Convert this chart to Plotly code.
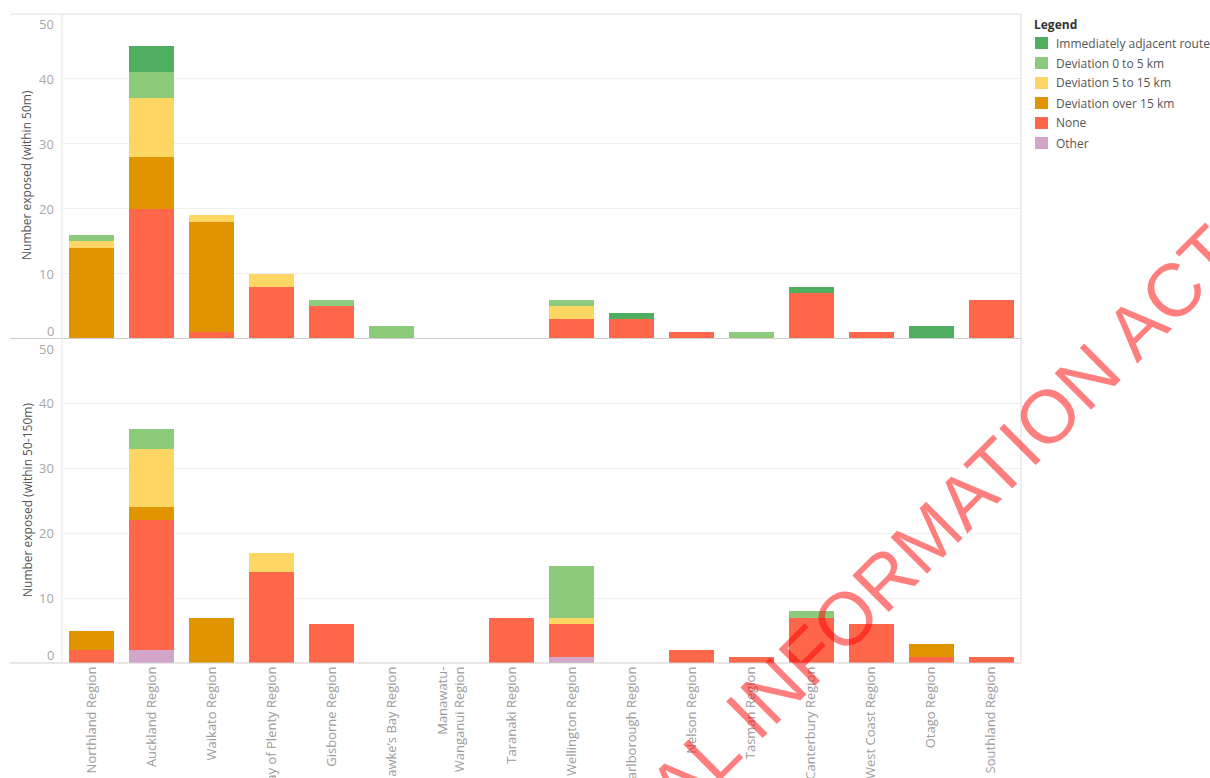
import plotly.graph_objects as go
from plotly.subplots import make_subplots

# Regions along the x axis
regions = [
    "Northland Region", "Auckland Region", "Waikato Region", "Bay of Plenty Region",
    "Gisborne Region", "Hawke’s Bay Region", "Manawatu-Wanganui Region", "Taranaki Region",
    "Wellington Region", "Marlborough Region", "Nelson Region", "Tasman Region",
    "Canterbury Region", "West Coast Region", "Otago Region", "Southland Region",
]
region_tick_labels = [
    "Northland Region", "Auckland Region", "Waikato Region", "Bay of Plenty Region",
    "Gisborne Region", "Hawke’s Bay Region", "Manawatu-<br>Wanganui Region", "Taranaki Region",
    "Wellington Region", "Marlborough Region", "Nelson Region", "Tasman Region",
    "Canterbury Region", "West Coast Region", "Otago Region", "Southland Region",
]

# Legend categories, bottom of the stack first
categories = ["Other", "None", "Deviation over 15 km", "Deviation 5 to 15 km",
              "Deviation 0 to 5 km", "Immediately adjacent route"]
legend_order = ["Immediately adjacent route", "Deviation 0 to 5 km", "Deviation 5 to 15 km",
                "Deviation over 15 km", "None", "Other"]
colors = {
    "Immediately adjacent route": "#4FAE5F",
    "Deviation 0 to 5 km": "#8CCB7C",
    "Deviation 5 to 15 km": "#FDD664",
    "Deviation over 15 km": "#E09500",
    "None": "#FF674B",
    "Other": "#D3A5C9",
}

# Number exposed within 50 m
w50_other =    [0, 0, 0, 0, 0, 0, 0, 0, 0, 0, 0, 0, 0, 0, 0, 0]
w50_none =     [0, 20, 1, 8, 5, 0, 0, 0, 3, 3, 1, 0, 7, 1, 0, 6]
w50_over15 =   [14, 8, 17, 0, 0, 0, 0, 0, 0, 0, 0, 0, 0, 0, 0, 0]
w50_5to15 =    [1, 9, 1, 2, 0, 0, 0, 0, 2, 0, 0, 0, 0, 0, 0, 0]
w50_0to5 =     [1, 4, 0, 0, 1, 2, 0, 0, 1, 0, 0, 1, 0, 0, 0, 0]
w50_adjacent = [0, 4, 0, 0, 0, 0, 0, 0, 0, 1, 0, 0, 1, 0, 2, 0]

# Number exposed within 50-150 m
w150_other =    [0, 2, 0, 0, 0, 0, 0, 0, 1, 0, 0, 0, 0, 0, 0, 0]
w150_none =     [2, 20, 0, 14, 6, 0, 0, 7, 5, 0, 2, 1, 7, 6, 1, 1]
w150_over15 =   [3, 2, 7, 0, 0, 0, 0, 0, 0, 0, 0, 0, 0, 0, 2, 0]
w150_5to15 =    [0, 9, 0, 3, 0, 0, 0, 0, 1, 0, 0, 0, 0, 0, 0, 0]
w150_0to5 =     [0, 3, 0, 0, 0, 0, 0, 0, 8, 0, 0, 0, 1, 0, 0, 0]
w150_adjacent = [0, 0, 0, 0, 0, 0, 0, 0, 0, 0, 0, 0, 0, 0, 0, 0]

y_ticks = [0, 10, 20, 30, 40, 50]
panel_titles = ["Number exposed (within 50m)", "Number exposed (within 50-150m)"]
watermark = "RELEASED UNDER THE OFFICIAL INFORMATION ACT"

panels = [
    [w50_other, w50_none, w50_over15, w50_5to15, w50_0to5, w50_adjacent],
    [w150_other, w150_none, w150_over15, w150_5to15, w150_0to5, w150_adjacent],
]

FONT = "Open Sans"
W, H = 1210, 778
L, R, T, B = 62, 1021, 14, 663
PW, PH = R - L, B - T


def px(x):
    return (x - L) / PW


def py(y):
    return (B - y) / PH


fig = make_subplots(rows=2, cols=1, shared_xaxes=True, vertical_spacing=0)

for row, series in enumerate(panels, start=1):
    for name, vals in zip(categories, series):
        fig.add_trace(
            go.Bar(
                x=regions, y=vals, name=name,
                marker=dict(color=colors[name], line=dict(width=0)),
                showlegend=False,
            ),
            row=row, col=1,
        )

fig.update_layout(
    barmode="stack",
    bargap=0.25,
    width=W, height=H,
    margin=dict(l=L, r=W - R, t=T, b=H - B),
    paper_bgcolor="white",
    plot_bgcolor="white",
    font=dict(family=FONT, color="#555555", size=12),
)

fig.update_yaxes(range=[0, 50], tickvals=[10, 20, 30, 40], showticklabels=False,
                 gridcolor="#f0f0f0", gridwidth=1, zeroline=False, showline=False, ticks="",
                 automargin=False)
fig.update_xaxes(showline=False, ticks="", showgrid=False, zeroline=False, automargin=False)
fig.update_xaxes(tickmode="array", tickvals=regions, ticktext=region_tick_labels,
                 tickangle=-90, tickfont=dict(family=FONT, size=13, color="#9c9c9c"),
                 row=2, col=1)

annotations = []
# y tick labels, kept inside each panel at the ends
for yref in ["y", "y2"]:
    for v in y_ticks:
        if v == 50:
            anchor, shift = "top", 1
        elif v == 0:
            anchor, shift = "bottom", -3
        else:
            anchor, shift = "middle", 0
        annotations.append(dict(
            x=px(56), y=v, xref="paper", yref=yref, text=str(v), showarrow=False,
            xanchor="right", yanchor=anchor, yshift=shift,
            font=dict(family=FONT, size=13, color="#a8a8a8"),
        ))

# panel titles
for title, yc in zip(panel_titles, [175, 500]):
    annotations.append(dict(
        x=px(27), y=py(yc), xref="paper", yref="paper", text=title, showarrow=False,
        textangle=-90, xanchor="center", yanchor="middle",
        font=dict(family=FONT, size=12, color="#555555"),
    ))

# legend
annotations.append(dict(
    x=px(1032), y=py(25), xref="paper", yref="paper", text="<b>Legend</b>", showarrow=False,
    xanchor="left", yanchor="middle", font=dict(family=FONT, size=12, color="#333333"),
))
shapes = []
for i, name in enumerate(legend_order):
    yc = 43 + 20 * i
    shapes.append(dict(type="rect", xref="paper", yref="paper",
                       x0=px(1035), x1=px(1048), y0=py(yc - 6), y1=py(yc + 6),
                       fillcolor=colors[name], line=dict(width=0)))
    annotations.append(dict(
        x=px(1054), y=py(yc), xref="paper", yref="paper", text=name, showarrow=False,
        xanchor="left", yanchor="middle", font=dict(family=FONT, size=12, color="#555555"),
    ))

# frame lines
shapes += [
    dict(type="line", xref="paper", yref="paper", x0=px(10), x1=1, y0=1, y1=1,
         line=dict(color="#e2e2e2", width=1)),
    dict(type="line", xref="paper", yref="paper", x0=px(10), x1=1, y0=0.5, y1=0.5,
         line=dict(color="#cfcfcf", width=1)),
    dict(type="line", xref="paper", yref="paper", x0=px(10), x1=1, y0=0, y1=0,
         line=dict(color="#cfcfcf", width=1)),
    dict(type="line", xref="paper", yref="paper", x0=0, x1=0, y0=0, y1=1,
         line=dict(color="#e2e2e2", width=1)),
    dict(type="line", xref="paper", yref="paper", x0=1, x1=1, y0=0, y1=1,
         line=dict(color="#dcdcdc", width=1)),
]

# release stamp across the page
annotations.append(dict(
    x=px(546), y=py(918), xref="paper", yref="paper", text=watermark, showarrow=False,
    textangle=-45, xanchor="center", yanchor="middle",
    font=dict(family="Liberation Sans", size=75, color="rgba(255,0,0,0.5)"),
))

fig.update_layout(annotations=annotations, shapes=shapes)

fig.write_html("out.html")
